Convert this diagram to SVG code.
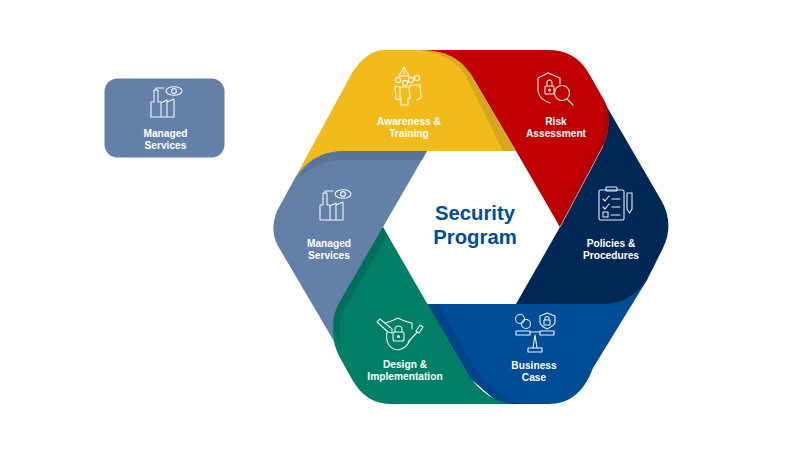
<svg xmlns="http://www.w3.org/2000/svg" width="800" height="450" viewBox="0 0 800 450">
<defs>
<style>
.l{font:bold 10.2px "Liberation Sans",Arial,sans-serif;fill:#fff;text-anchor:middle}
.t{font:bold 20.3px "Liberation Sans",Arial,sans-serif;fill:#004C97;text-anchor:middle}
.i{fill:none;stroke:#fff;stroke-width:1.1;stroke-linejoin:round;stroke-linecap:round;opacity:.92}
</style>
<g id="factory" class="i">
<path d="M-22 14V-1H-19V-13H-15V-1H-12V14ZM-12 14V0L-6 -3V14ZM-6 14V-1L1 -4V14Z"/>
<path d="M-17 -13V-15H-9"/>
<ellipse cx="1" cy="-12" rx="8" ry="4.2"/><circle cx="1" cy="-12" r="2.4"/>
</g>
</defs>
<rect width="800" height="450" fill="#fff"/>
<g id="business">
<path fill="#004C97" d="M427 304H600L647 280L593 368C584 392 570 404 548 404H500L470 378Z"/>
<path fill="#00458A" d="M427 304H438L470 360C480 380 495 394 522 404H500L470 378Z"/>
</g>
<g id="policies">
<path fill="#002856" d="M603 100L661 200C670 215 671 232 663 248L647 280C635 296 622 304 600 304H516L560 227L603 146C610 130 610 113 603 100Z"/>
</g>
<g id="risk">
<path fill="#C00000" d="M420 50H548C566 50 579 57 588 72L604 100C611 113 610 130 603 146L560 227L516 151L470 73L420 60Z"/>
<path fill="#B00000" d="M560 227L603 146C610 130 610 113 604 100C607 118 604 130 597 145L556 220Z"/>
<path fill="none" stroke="#E8C8C8" stroke-width="0.7" d="M603 146L560 227"/>
</g>
<g id="awareness">
<path fill="#D4A822" d="M420 50C442 50 458 56 470 73L516 151H427L420 100Z"/>
<path fill="#F2BB1B" d="M385 50H412C437 50 455 60 465 74L503 151H340L295 178L352 73C362 58 372 50 385 50Z"/>
</g>
<g id="managed">
<path fill="#6480A8" d="M345 151H427L383 227L345 360L278 246C272 235 272 224 277 211L295 178C307 160 322 151 345 151Z"/>
<path fill="#5A7499" d="M345 151H427L422 160H345C325 160 310 166 297 180C306 162 322 151 345 151Z"/>
</g>
<g id="design">
<path fill="#007F66" d="M383 227L462 364C475 388 490 400 510 404H392C374 404 362 396 353 381L339 356C331 340 331 322 338 305Z"/>
<path fill="#00705A" d="M383 227L387 236L343 312C339 325 339 335 341 345C331 330 332 318 338 305Z"/>
</g>
<g id="icons">
<g class="i">
<path d="M404 67L399 76H409ZM404 71V74"/>
<circle cx="398" cy="80" r="2.6"/><circle cx="405" cy="83" r="2.6"/><circle cx="411" cy="80" r="2.6"/><circle cx="417" cy="78" r="2.6"/>
<path d="M400 87H409L410 98H408V105H401V98H400ZM400 87L395 86 396 99 400 100M409 87L412 85H420L421 98 417 100"/>
</g>
<g class="i">
<path d="M548 73L538 78V91C539 97 544 101 550 103"/>
<path d="M548 73L560 78V84"/>
<rect x="545" y="86" width="9" height="8" rx="1"/><path d="M547 86V83C547 79 552 79 552 83V86"/><circle cx="549.5" cy="90" r="1"/>
<circle cx="562" cy="93" r="7.5"/><path d="M567 99L573 105"/>
</g>
<g class="i">
<rect x="599" y="190" width="25" height="30" rx="1.5"/><rect x="606" y="187" width="11" height="4" rx="1"/>
<path d="M603 199L605 201 609 196M612 199H620M603 207L605 209 609 204M612 207H620M611 215H620"/><rect x="603" y="212" width="5" height="5"/>
<path d="M627 193H632V209L629.500 213 627 209Z"/>
</g>
<g class="i">
<circle cx="520" cy="319" r="4.5"/><circle cx="526" cy="324" r="4.5"/>
<rect x="516" y="331" width="14" height="4"/><rect x="540" y="331" width="14" height="4"/>
<path d="M530 332H540M535 335L533 348M535 335L537 348"/><rect x="528" y="348" width="14" height="4"/>
<path d="M547 313L555 316V322C555 325 551 327 547 329C543 327 540 325 540 322V316Z"/>
<rect x="544" y="320" width="6" height="5"/><path d="M545 320V318C545 316 549 316 549 318V320"/>
</g>
<g class="i">
<path d="M377 322L380 319 392 329 392 333 388 332Z"/>
<path d="M385 323C390 322 394 320 398 318C403 321 408 322 412 323V329"/>
<rect x="393" y="332" width="11" height="9" rx="2"/><path d="M395 332V329C395 325 402 325 402 329V332"/><circle cx="398.500" cy="336.500" r="1"/>
<path d="M387 332C385 343 390 349 398 350C404 349 408 345 410 340"/>
<path d="M416 331L420 325 423 327 419 333ZM417.500 332L408 342"/>
</g>
<use href="#factory" x="342" y="206"/>
</g>
<g id="card"><rect x="104.500" y="78.500" width="120" height="79" rx="13" fill="#6480A8"/>
<use href="#factory" transform="translate(173 103)"/>
<text class="l" x="165.500" y="137">Managed</text><text class="l" x="165.500" y="149">Services</text></g>
<g id="labels">
<text class="t" x="475" y="220">Security</text><text class="t" x="475" y="244">Program</text>
<text class="l" x="409" y="125">Awareness &amp;</text><text class="l" x="409" y="137">Training</text>
<text class="l" x="556" y="125">Risk</text><text class="l" x="556" y="137">Assessment</text>
<text class="l" x="611" y="247">Policies &amp;</text><text class="l" x="611" y="259">Procedures</text>
<text class="l" x="534" y="369">Business</text><text class="l" x="534" y="381">Case</text>
<text class="l" x="405" y="368">Design &amp;</text><text class="l" x="405" y="380">Implementation</text>
<text class="l" x="329" y="247">Managed</text><text class="l" x="329" y="259">Services</text>
</g>
</svg>
